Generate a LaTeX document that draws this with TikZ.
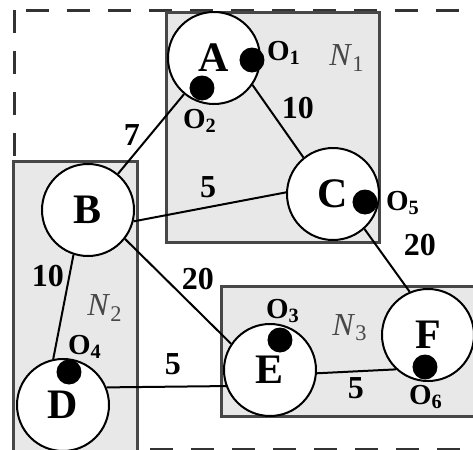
\documentclass[tikz,border=0pt]{standalone}
\usepackage{fontspec}
\setmainfont{Liberation Serif}
\usetikzlibrary{positioning}

\begin{document}
\begin{tikzpicture}[x=0.5pt,y=-0.5pt,
  host/.style={circle,draw,line width=1pt,fill=white,minimum size=46pt,inner sep=0pt,
    font=\fontsize{21}{24}\selectfont\bfseries},
  port/.style={circle,fill=black,minimum size=12.5pt,inner sep=0pt},
  plabel/.style={font=\fontsize{14.5}{16}\selectfont\bfseries,inner sep=0pt},
  wlabel/.style={font=\fontsize{16}{18}\selectfont\bfseries,inner sep=0pt},
  nlabel/.style={font=\fontsize{16}{18}\selectfont,text=black!72,inner sep=0pt},
  net/.style={draw=black!72,line width=1.5pt,fill=black!9},
  outer/.style={draw=black!80,line width=1.5pt,dash pattern=on 11.5pt off 9pt},
  link/.style={line width=1pt}]
  \clip (0,0) rectangle (473,450);
  % domain and the three networks
  \draw[outer] (15,10) rectangle (495,449);
  \draw[net] (167,12) rectangle (380,242);
  \draw[net] (14,161) rectangle (138,480);
  \draw[net] (222,286) rectangle (495,416);
  \node[nlabel] (n1) at (347,58) {\textit{N}\textsubscript{1}};
  \node[nlabel] (n2) at (105,308) {\textit{N}\textsubscript{2}};
  \node[nlabel] (n3) at (350,328) {\textit{N}\textsubscript{3}};
  % hosts
  \node[host] (A) at (214,58) {A};
  \node[host] (B) at (88,210) {B};
  \node[host] (C) at (333,194) {C};
  \node[host] (D) at (63,405) {D};
  \node[host] (E) at (270,370) {E};
  \node[host] (F) at (428,335) {F};
  % links
  \draw[link] (A) -- (B);
  \draw[link] (A.-35) -- (C.129);
  \draw[link] (B.-14) -- (C.178);
  \draw[link] (B.-108) -- (D.102);
  \draw[link] (B.-38) -- (E.146);
  \draw[link] (D.22) -- (E.200);
  \draw[link] (C.-48) -- (F.113);
  \draw[link] (E.-4) -- (F.227);
  \node[wlabel] (w1) at (132,135) {7};
  \node[wlabel] (w2) at (298,108) {10};
  \node[wlabel] (w3) at (208,187) {5};
  \node[wlabel] (w4) at (48,276) {10};
  \node[wlabel] (w5) at (198,279) {20};
  \node[wlabel] (w6) at (173,364) {5};
  \node[wlabel] (w7) at (420,245) {20};
  \node[wlabel] (w8) at (356,388) {5};
  % observers
  \node[port] (o1) at (252,60) {};
  \node[port] (o2) at (202,88) {};
  \node[port] (o3) at (280,340) {};
  \node[port] (o4) at (69,372) {};
  \node[port] (o5) at (365,202) {};
  \node[port] (o6) at (425,367) {};
  \node[plabel] (l1) at (284,53) {O\textsubscript{1}};
  \node[plabel] (l2) at (200,121) {O\textsubscript{2}};
  \node[plabel] (l3) at (283,311) {O\textsubscript{3}};
  \node[plabel] (l4) at (85,347) {O\textsubscript{4}};
  \node[plabel] (l5) at (403,203) {O\textsubscript{5}};
  \node[plabel] (l6) at (426,397) {O\textsubscript{6}};
\end{tikzpicture}
\end{document}
